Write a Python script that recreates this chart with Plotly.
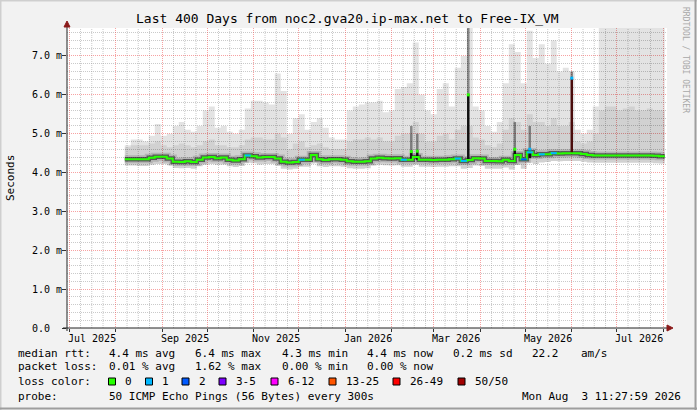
import plotly.graph_objects as go
import pandas as pd

# smokeping 400 day view, 4-day consolidation bins (values in ms)
bin_start = "2025-08-07"
bin_freq = "4D"

median_ms = [
    4.34, 4.34, 4.34, 4.34, 4.38, 4.41, 4.41, 4.36, 4.28, 4.27,
    4.29, 4.27, 4.33, 4.39, 4.40, 4.37, 4.39, 4.33, 4.31, 4.34,
    4.44, 4.42, 4.39, 4.40, 4.40, 4.36, 4.28, 4.26, 4.27, 4.33,
    4.33, 4.45, 4.34, 4.32, 4.34, 4.34, 4.33, 4.29, 4.28, 4.28,
    4.29, 4.36, 4.38, 4.37, 4.36, 4.37, 4.33, 4.33, 4.40, 4.33,
    4.33, 4.32, 4.33, 4.33, 4.34, 4.36, 4.30, 4.32, 4.37, 4.36,
    4.30, 4.30, 4.29, 4.33, 4.30, 4.45, 4.34, 4.52, 4.45, 4.47,
    4.47, 4.50, 4.49, 4.50, 4.50, 4.50, 4.48, 4.45, 4.44, 4.44,
    4.44, 4.44, 4.44, 4.44, 4.44, 4.44, 4.44, 4.44, 4.43, 4.42,
]
smoke_max = [
    4.70, 4.85, 4.85, 4.80, 4.95, 5.25, 4.95, 5.00, 5.20, 5.30,
    5.10, 5.05, 5.20, 5.60, 5.70, 5.15, 5.20, 5.05, 5.00, 5.10,
    5.65, 5.85, 5.85, 5.80, 5.75, 6.55, 6.10, 5.00, 5.40, 5.50,
    5.10, 5.30, 5.40, 5.15, 4.90, 4.85, 4.85, 5.60, 5.70, 5.75,
    5.80, 5.80, 5.85, 5.55, 5.60, 6.15, 6.20, 6.30, 7.35, 6.00,
    5.60, 5.50, 6.15, 6.30, 5.70, 6.70, 7.00, 7.80, 5.70, 5.60,
    5.20, 5.05, 5.30, 6.30, 7.30, 7.10, 6.30, 7.65, 6.95, 7.30,
    6.80, 7.40, 6.60, 6.70, 6.60, 5.10, 5.00, 5.10, 5.70, 7.80,
    7.80, 7.80, 7.80, 7.80, 7.80, 7.80, 7.80, 7.80, 7.80, 7.80,
]
smoke_hi = [
    4.65, 4.70, 4.70, 4.70, 4.75, 4.80, 4.70, 4.65, 4.70, 4.75,
    4.70, 4.65, 4.70, 4.80, 4.85, 4.70, 4.70, 4.65, 4.65, 4.70,
    4.85, 4.90, 4.90, 4.85, 4.85, 5.00, 4.90, 4.60, 4.75, 4.80,
    4.65, 4.70, 4.75, 4.65, 4.60, 4.60, 4.60, 4.80, 4.85, 4.85,
    4.90, 4.85, 4.90, 4.80, 4.80, 4.95, 5.00, 5.00, 5.30, 5.00,
    4.80, 4.80, 4.95, 5.00, 4.85, 5.10, 5.20, 5.20, 4.90, 4.85,
    4.70, 4.65, 4.75, 5.10, 5.40, 5.30, 5.10, 5.50, 5.30, 5.30,
    5.20, 5.40, 5.20, 5.20, 5.30, 4.80, 4.75, 4.80, 5.00, 5.60,
    5.70, 5.70, 5.60, 5.65, 5.70, 5.60, 5.60, 5.65, 5.60, 5.60,
]
smoke_lo = [
    4.18, 4.18, 4.17, 4.17, 4.20, 4.22, 4.22, 4.19, 4.12, 4.11,
    4.12, 4.10, 4.16, 4.20, 4.22, 4.20, 4.21, 4.16, 4.14, 4.17,
    4.25, 4.24, 4.21, 4.22, 4.22, 4.18, 4.10, 4.08, 4.10, 4.15,
    4.15, 4.26, 4.16, 4.14, 4.16, 4.16, 4.15, 4.11, 4.10, 4.10,
    4.11, 4.18, 4.20, 4.19, 4.18, 4.19, 4.15, 4.15, 4.20, 4.15,
    4.15, 4.14, 4.15, 4.15, 4.16, 4.16, 4.10, 4.12, 4.18, 4.17,
    4.10, 4.10, 4.10, 4.13, 4.08, 4.20, 4.10, 4.25, 4.22, 4.26,
    4.27, 4.30, 4.29, 4.30, 4.30, 4.30, 4.28, 4.26, 4.25, 4.25,
    4.25, 4.25, 4.25, 4.25, 4.25, 4.25, 4.25, 4.25, 4.24, 4.23,
]
# index into loss_labels for every bin
loss_bucket = [
    0, 0, 0, 0, 0, 0, 0, 0, 0, 0,
    0, 0, 0, 0, 0, 0, 0, 0, 0, 0,
    1, 0, 0, 0, 0, 0, 0, 0, 0, 1,
    0, 0, 0, 0, 0, 0, 0, 0, 0, 0,
    0, 0, 0, 0, 0, 0, 1, 0, 0, 0,
    0, 0, 0, 0, 0, 1, 1, 0, 0, 0,
    0, 0, 0, 0, 0, 0, 2, 1, 0, 1,
    0, 1, 0, 0, 0, 0, 0, 0, 0, 0,
    0, 0, 0, 0, 0, 0, 0, 0, 0, 0,
]

# short events narrower than a bin
spike_dates = ["2026-02-14", "2026-02-18", "2026-03-24", "2026-04-24", "2026-05-04", "2026-06-01"]
spike_base = [4.33, 4.33, 4.32, 4.30, 4.37, 4.50]
spike_median = [4.54, 4.55, 6.00, 4.60, 4.60, 6.43]
spike_top = [5.20, 5.00, 7.80, 5.30, 5.20, 6.60]
spike_loss = [0, 0, 0, 0, 1, 1]

loss_labels = ["0", "1", "2", "3-5", "6-12", "13-25", "26-49", "50/50"]
loss_colors = ["#26ff00", "#00b8ff", "#0059ff", "#7e00ff", "#ff00ff", "#ff5500", "#ff0000", "#a10000"]

y_ticks = [0, 1, 2, 3, 4, 5, 6, 7]
y_tick_text = ["0.0", "1.0 m", "2.0 m", "3.0 m", "4.0 m", "5.0 m", "6.0 m", "7.0 m"]
x_label_dates = ["2025-07-16", "2025-09-16", "2025-11-16", "2026-01-16", "2026-03-16", "2026-05-16", "2026-07-16"]
x_label_text = ["Jul 2025", "Sep 2025", "Nov 2025", "Jan 2026", "Mar 2026", "May 2026", "Jul 2026"]

W, H = 697, 410
L, T, PW, PH = 67, 28, 600, 300
MONO = "DejaVu Sans Mono"
X_RANGE = ["2025-06-29 11:28", "2026-08-03 11:28"]


def px(x):
    return (x - L) / PW


def py(y):
    return (T + PH - y) / PH


dates = pd.date_range(bin_start, periods=len(median_ms) + 1, freq=bin_freq)


def stepped(vals):
    return list(vals) + [vals[-1]]


fig = go.Figure()

# smoke: light outer band, medium inner band (transparent so the grid shows)
fig.add_trace(go.Scatter(x=dates, y=stepped(smoke_lo), mode="lines", line=dict(width=0, shape="hv"),
                         hoverinfo="skip", showlegend=False))
fig.add_trace(go.Scatter(x=dates, y=stepped(smoke_max), mode="lines", line=dict(width=0, shape="hv"),
                         fill="tonexty", fillcolor="rgba(0,0,0,0.11)", hoverinfo="skip", showlegend=False))
fig.add_trace(go.Scatter(x=dates, y=stepped(smoke_lo), mode="lines", line=dict(width=0, shape="hv"),
                         hoverinfo="skip", showlegend=False))
fig.add_trace(go.Scatter(x=dates, y=stepped(smoke_hi), mode="lines", line=dict(width=0, shape="hv"),
                         fill="tonexty", fillcolor="rgba(0,0,0,0.08)", hoverinfo="skip", showlegend=False))

# dark core of the smoke around the median
fig.add_trace(go.Scatter(x=dates, y=stepped(median_ms), mode="lines",
                         line=dict(width=8, shape="hv", color="rgba(0,0,0,0.14)"),
                         hoverinfo="skip", showlegend=False))
fig.add_trace(go.Scatter(x=dates, y=stepped(median_ms), mode="lines",
                         line=dict(width=4.5, shape="hv", color="rgba(0,0,0,0.5)"),
                         hoverinfo="skip", showlegend=False))

# spikes: dark column from median base up into the smoke
for d, b, m, t in zip(spike_dates, spike_base, spike_median, spike_top):
    col = "#4a0c0c" if m > 6.2 else "#111111"
    fig.add_trace(go.Scatter(x=[d, d], y=[m, t], mode="lines",
                             line=dict(width=2.5, color="rgba(0,0,0,0.4)"),
                             hoverinfo="skip", showlegend=False))
    fig.add_trace(go.Scatter(x=[d, d], y=[b, m], mode="lines",
                             line=dict(width=2.5, color=col),
                             hoverinfo="skip", showlegend=False))

# median rtt line
fig.add_trace(go.Scatter(x=dates, y=stepped(median_ms), mode="lines",
                         line=dict(width=2, shape="hv", color=loss_colors[0]),
                         name="median rtt", showlegend=False))

# bins with packet loss get their loss colour
for k in range(1, len(loss_colors)):
    xs, ys = [], []
    for i, lb in enumerate(loss_bucket):
        if lb == k:
            xs += [dates[i], dates[i + 1], None]
            ys += [median_ms[i], median_ms[i], None]
    if xs:
        fig.add_trace(go.Scatter(x=xs, y=ys, mode="lines", line=dict(width=2, color=loss_colors[k]),
                                 hoverinfo="skip", showlegend=False))

fig.add_trace(go.Scatter(x=spike_dates, y=spike_median, mode="markers",
                         marker=dict(symbol="square", size=3, color=[loss_colors[l] for l in spike_loss]),
                         hoverinfo="skip", showlegend=False))

GRID = "rgba(150,150,150,0.5)"
MGRID = "rgba(240,70,70,0.5)"

fig.update_layout(
    width=W, height=H,
    margin=dict(l=L, r=W - L - PW, t=T, b=H - T - PH, pad=0),
    paper_bgcolor="#f2f2f2",
    plot_bgcolor="white",
    font=dict(family=MONO, size=10, color="black"),
    hovermode=False,
    xaxis=dict(
        type="date", range=X_RANGE,
        showgrid=True, gridcolor=MGRID, griddash="1px,1px", gridwidth=1,
        tickmode="linear", tick0="2025-07-01", dtick="M1",
        ticks="outside", ticklen=3, tickcolor="#333", showticklabels=False,
        zeroline=False, showline=False, fixedrange=True,
    ),
    yaxis=dict(
        range=[0, 7.72], tickmode="linear", tick0=0, dtick=1,
        showgrid=True, gridcolor=MGRID, griddash="1px,1px", gridwidth=1,
        ticks="outside", ticklen=4, tickcolor="#333", showticklabels=False,
        zeroline=False, showline=False, fixedrange=True,
        minor=dict(dtick=0.2, showgrid=True, gridcolor=GRID, griddash="1px,1px", ticks=""),
    ),
)

shapes = []

# minor vertical grid, about a quarter month apart, below the smoke
for ms in pd.date_range("2025-06-01", "2026-08-01", freq="MS"):
    for dd in (8.5, 16, 23.5):
        gx = ms + pd.Timedelta(days=dd - 1)
        if pd.Timestamp(X_RANGE[0]) < gx < pd.Timestamp(X_RANGE[1]):
            shapes.append(dict(type="line", xref="x", yref="paper", x0=gx, x1=gx, y0=0, y1=1,
                               layer="below", line=dict(color=GRID, width=1, dash="1px,1px")))

# axes with arrows, as rrdtool draws them
shapes += [
    dict(type="line", xref="paper", yref="paper", x0=px(63), x1=px(669), y0=py(328), y1=py(328),
         line=dict(color="#222", width=1)),
    dict(type="line", xref="paper", yref="paper", x0=px(67), x1=px(67), y0=py(331), y1=py(25),
         line=dict(color="#222", width=1)),
    dict(type="path", xref="paper", yref="paper", fillcolor="#8b1a1a", line=dict(color="#8b1a1a", width=1),
         path=f"M {px(673)} {py(328)} L {px(667)} {py(325)} L {px(667)} {py(331)} Z"),
    dict(type="path", xref="paper", yref="paper", fillcolor="#8b1a1a", line=dict(color="#8b1a1a", width=1),
         path=f"M {px(67)} {py(21)} L {px(64)} {py(27)} L {px(70)} {py(27)} Z"),
    # frame
    dict(type="line", xref="paper", yref="paper", x0=px(0.5), x1=px(0.5), y0=py(0), y1=py(410),
         line=dict(color="#cfcfcf", width=2)),
    dict(type="line", xref="paper", yref="paper", x0=px(0), x1=px(697), y0=py(0.5), y1=py(0.5),
         line=dict(color="#cfcfcf", width=2)),
    dict(type="line", xref="paper", yref="paper", x0=px(695.5), x1=px(695.5), y0=py(0), y1=py(410),
         line=dict(color="#9e9e9e", width=2)),
    dict(type="line", xref="paper", yref="paper", x0=px(0), x1=px(697), y0=py(408.5), y1=py(408.5),
         line=dict(color="#9e9e9e", width=2)),
]

# legend swatches
swatch_x = [108.5, 145.5, 182, 219, 271, 329, 393, 458]
for sx, c in zip(swatch_x, loss_colors):
    shapes.append(dict(type="rect", xref="paper", yref="paper", x0=px(sx), x1=px(sx + 7),
                       y0=py(385), y1=py(378), fillcolor=c, line=dict(color="black", width=1)))
fig.update_layout(shapes=shapes)


def txt(x, y, s, size=11, anchor="left", **kw):
    fig.add_annotation(x=px(x), y=py(y), xref="paper", yref="paper", text=s, showarrow=False,
                       xanchor=anchor, yanchor="middle",
                       font=dict(family=MONO, size=size, color=kw.pop("color", "black")), **kw)


txt(347.5, 19, "Last 400 Days from noc2.gva20.ip-max.net to Free-IX_VM", size=13, anchor="center")
txt(10, 178, "Seconds", size=11, anchor="center", textangle=-90)
txt(686, 60, "RRDTOOL / TOBI OETIKER", size=8, anchor="center", textangle=90, color="#a8a8a8")

for v, s in zip(y_ticks, y_tick_text):
    fig.add_annotation(x=px(30), y=v, xref="paper", yref="y", text=s, showarrow=False,
                       xanchor="left", yanchor="middle", font=dict(family=MONO, size=10))

for d, s in zip(x_label_dates, x_label_text):
    fig.add_annotation(x=d, y=py(338), xref="x", yref="paper", text=s, showarrow=False,
                       xanchor="center", yanchor="middle", font=dict(family=MONO, size=10))

# legend / statistics rows
row_y = [353, 367, 381, 396]
txt(16, row_y[0], "median rtt:")
for x, s in zip([107, 193, 280, 365, 451, 530, 579],
                ["4.4 ms avg", "6.4 ms max", "4.3 ms min", "4.4 ms now", "0.2 ms sd", "22.2", "am/s"]):
    txt(x, row_y[0], s)
txt(16, row_y[1], "packet loss:")
for x, s in zip([107, 193, 280, 365], ["0.01 % avg", "1.62 % max", "0.00 % min", "0.00 % now"]):
    txt(x, row_y[1], s)
txt(16, row_y[2], "loss color:")
for sx, s in zip(swatch_x, loss_labels):
    txt(sx + 14.5, row_y[2], s)
txt(16, row_y[3], "probe:")
txt(107, row_y[3], "50 ICMP Echo Pings (56 Bytes) every 300s")
txt(683, row_y[3], "Mon Aug\u00a0 3 11:27:59 2026", anchor="right")

# the page's default body margin would shift the 697x410 figure inside the window
fig.write_html("out.html", config={"displayModeBar": False},
               post_script="document.body.style.margin='0px';")
